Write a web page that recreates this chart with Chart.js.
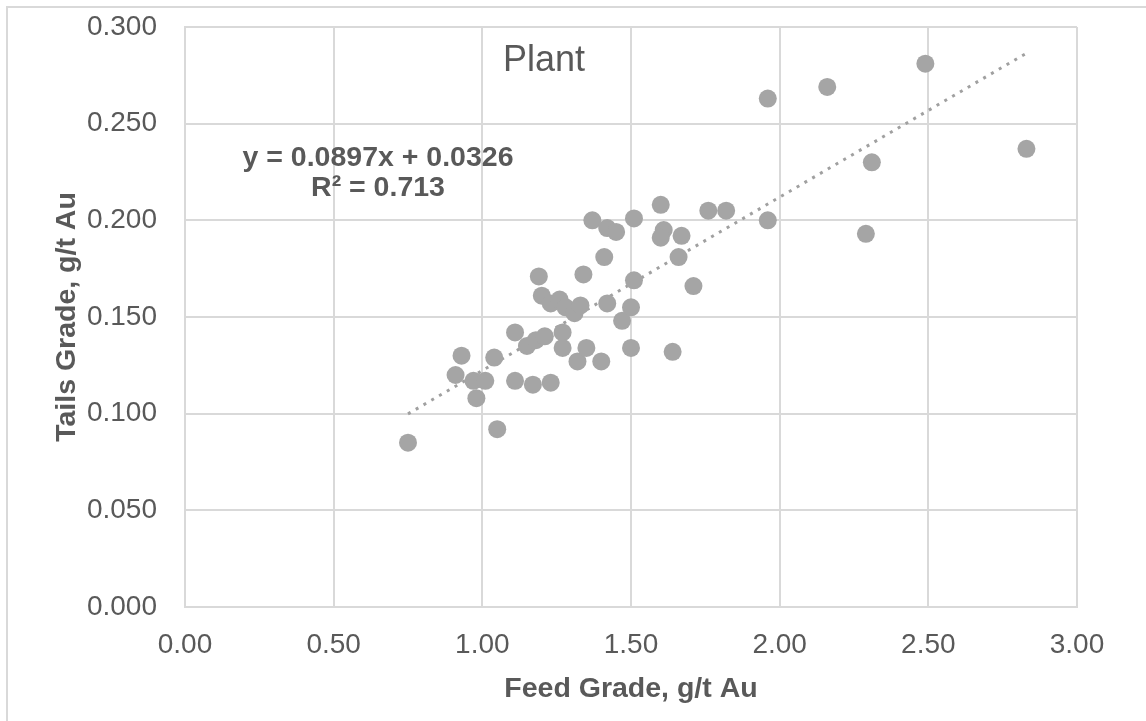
<!DOCTYPE html>
<html>
<head>
<meta charset="utf-8">
<script src="https://cdn.jsdelivr.net/npm/chart.js@4/dist/chart.umd.min.js"></script>
<style>
  html, body { margin: 0; padding: 0; background: #fff; }
  canvas { display: block; }
</style>
</head>
<body>
<canvas id="chart" width="1146" height="721"></canvas>
<script>
// feed grade (x) and tails grade (y), g/t Au
const feedGrade = [0.75, 0.93, 0.91, 0.97, 1.01, 0.98, 1.05, 1.04, 1.11, 1.11, 1.17, 1.23,
  1.15, 1.18, 1.21, 1.27, 1.27, 1.32, 1.35, 1.40, 1.19, 1.20, 1.23, 1.26, 1.28, 1.31, 1.33,
  1.34, 1.41, 1.37, 1.42, 1.45, 1.51, 1.42, 1.47, 1.50, 1.51, 1.50, 1.60, 1.61, 1.60, 1.67,
  1.66, 1.71, 1.64, 1.76, 1.82, 1.96, 2.16, 2.49, 2.83, 2.31, 2.29, 1.96]
const tailsGrade = [0.085, 0.130, 0.120, 0.117, 0.117, 0.108, 0.092, 0.129, 0.142, 0.117, 0.115, 0.116,
  0.135, 0.138, 0.140, 0.142, 0.134, 0.127, 0.134, 0.127, 0.171, 0.161, 0.157, 0.159, 0.155, 0.152, 0.156,
  0.172, 0.181, 0.200, 0.196, 0.194, 0.201, 0.157, 0.148, 0.155, 0.169, 0.134, 0.208, 0.195, 0.191, 0.192,
  0.181, 0.166, 0.132, 0.205, 0.205, 0.263, 0.269, 0.281, 0.237, 0.230, 0.193, 0.200]

// linear trendline as printed on the chart
const slope = 0.0897
const intercept = 0.0326
const rSquared = 0.713

const xTicks = [0, 0.5, 1, 1.5, 2, 2.5, 3]
const yTicks = [0, 0.05, 0.1, 0.15, 0.2, 0.25, 0.3]

const textColor = '#595959'
const gridColor = '#d9d9d9'
const fontFamily = '"Liberation Sans", Arial, sans-serif'

const points = feedGrade.map((x, i) => ({ x: x, y: tailsGrade[i] }))
const xMin = Math.min(...feedGrade)
const xMax = Math.max(...feedGrade)
const trend = [xMin, xMax].map(x => ({ x: x, y: slope * x + intercept }))

const annotations = {
  id: 'annotations',
  beforeDraw(chart) {
    const ctx = chart.ctx
    ctx.save()
    ctx.fillStyle = '#fff'
    ctx.fillRect(0, 0, chart.width, chart.height)
    ctx.strokeStyle = gridColor
    ctx.lineWidth = 2
    ctx.strokeRect(7, 7, chart.width + 20, chart.height + 20)
    ctx.restore()
  },
  afterDatasetsDraw(chart) {
    const ctx = chart.ctx
    ctx.save()
    ctx.fillStyle = textColor
    ctx.textAlign = 'center'
    ctx.textBaseline = 'middle'
    ctx.font = '36px ' + fontFamily
    ctx.fillText('Plant', 544, 61)
    ctx.font = 'bold 28.5px ' + fontFamily
    ctx.fillText('y = ' + slope + 'x + ' + intercept, 378, 158)
    ctx.fillText('R\u00b2 = ' + rSquared, 378, 188)
    ctx.restore()
  }
}

new Chart(document.getElementById('chart'), {
  type: 'scatter',
  data: {
    datasets: [
      {
        label: 'Trend',
        type: 'line',
        data: trend,
        borderColor: '#a0a0a0',
        borderWidth: 3,
        borderDash: [3, 6],
        pointRadius: 0,
        fill: false,
        order: 2
      },
      {
        label: 'Plant',
        data: points,
        backgroundColor: '#a5a5a5',
        borderWidth: 0,
        pointRadius: 9,
        pointHoverRadius: 9,
        order: 1
      }
    ]
  },
  options: {
    responsive: false,
    animation: false,
    events: [],
    layout: { padding: { left: 0, top: 27, right: 69, bottom: 0 } },
    plugins: {
      legend: { display: false },
      tooltip: { enabled: false }
    },
    scales: {
      x: {
        type: 'linear',
        min: 0,
        max: 3,
        afterBuildTicks: axis => { axis.ticks = xTicks.map(v => ({ value: v })) },
        afterFit: axis => {
          axis.height = 114
          axis.paddingLeft = 0
          axis.paddingRight = 0
        },
        grid: { color: gridColor, lineWidth: 2, drawTicks: false },
        border: { color: gridColor, width: 2 },
        ticks: {
          color: textColor,
          padding: 21,
          font: { family: fontFamily, size: 28 },
          callback: v => v.toFixed(2)
        },
        title: {
          display: true,
          text: 'Feed Grade, g/t Au',
          color: textColor,
          font: { family: fontFamily, size: 28.5, weight: 'bold' },
          padding: { top: 0, bottom: 15 }
        }
      },
      y: {
        type: 'linear',
        min: 0,
        max: 0.3,
        afterBuildTicks: axis => { axis.ticks = yTicks.map(v => ({ value: v })) },
        afterFit: axis => {
          axis.width = 185
          axis.paddingTop = 0
          axis.paddingBottom = 0
        },
        grid: { color: gridColor, lineWidth: 2, drawTicks: false },
        border: { color: gridColor, width: 2 },
        ticks: {
          color: textColor,
          padding: 28,
          font: { family: fontFamily, size: 28 },
          callback: v => v.toFixed(3)
        },
        title: {
          display: true,
          text: 'Tails Grade, g/t Au',
          color: textColor,
          font: { family: fontFamily, size: 28.5, weight: 'bold' },
          padding: { top: 50, bottom: 0 }
        }
      }
    }
  },
  plugins: [annotations]
})
</script>
</body>
</html>
